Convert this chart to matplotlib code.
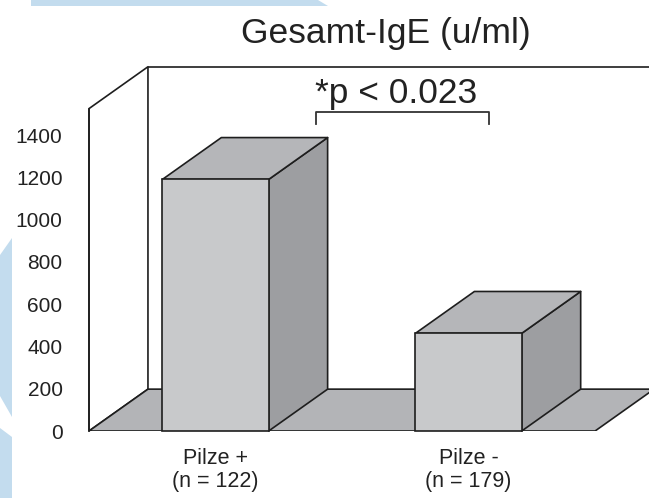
import matplotlib
matplotlib.use("Agg")
import matplotlib.pyplot as plt
from matplotlib.patches import Polygon, Rectangle

plt.rcParams['font.family'] = ['Liberation Sans', 'DejaVu Sans']

# data
groups = ['Pilze +\n(n = 122)', 'Pilze -\n(n = 179)']
ige_values = [1190, 462]
y_ticks = [0, 200, 400, 600, 800, 1000, 1200, 1400]
title = 'Gesamt-IgE (u/ml)'
p_label = '*p < 0.023'

# 3d look
bar_w = 0.42
dx, dy = 0.233, 198
wall_top = 1525
x_lo, x_hi = -0.5, 1.5

front_c = '#c8c9cb'
top_c = '#b5b6b9'
side_c = '#9d9ea1'
floor_c = '#b3b4b7'
edge = '#1e1e1e'
lw = 1.2

fig = plt.figure(figsize=(6.49, 4.98), dpi=100)
W, H = 649, 498
ax = fig.add_axes([89 / W, 67 / H, (649 - 89) / W, 371 / H])
ax.set_xlim(x_lo, 1.713)
ax.set_ylim(0, 371 / 0.2114)

def poly(pts, fc, z):
    ax.add_patch(Polygon(pts, closed=True, facecolor=fc, edgecolor=edge,
                         linewidth=lw, zorder=z, clip_on=False, joinstyle='round'))

# left wall (white) and back wall top line
poly([(x_lo, 0), (x_lo + dx, dy), (x_lo + dx, wall_top + dy), (x_lo, wall_top)], 'white', 1)
ax.plot([x_lo + dx, 1.713], [wall_top + dy, wall_top + dy], color=edge, lw=lw, zorder=1,
        clip_on=True, solid_capstyle='butt')
# floor
ax.add_patch(Polygon([(x_lo, 0), (x_hi, 0), (x_hi + dx, dy), (x_lo + dx, dy)], closed=True,
                     facecolor=floor_c, edgecolor=edge, linewidth=lw, zorder=2, clip_on=True))
ax.plot([x_lo, x_lo], [0, wall_top], color=edge, lw=lw, zorder=3, clip_on=False)

# bars
for i, v in enumerate(ige_values):
    l, r = i - bar_w / 2, i + bar_w / 2
    poly([(r, 0), (r + dx, dy), (r + dx, v + dy), (r, v)], side_c, 4)
    poly([(l, v), (r, v), (r + dx, v + dy), (l + dx, v + dy)], top_c, 4)
    ax.add_patch(Rectangle((l, 0), bar_w, v, facecolor=front_c, edgecolor=edge,
                           linewidth=lw, zorder=5, clip_on=False))

# significance bracket
bx0, bx1, by, bh = 0.397, 1.081, 1509, 57
ax.plot([bx0, bx0, bx1, bx1], [by - bh, by, by, by - bh], color='#333333', lw=1.3, zorder=6)
ax.text((bx0 + bx1) / 2 - 0.025, 1551, p_label, ha='center', va='baseline', fontsize=25.5,
        color='#222222')

fig.text(386 / W, (H - 43) / H, title, ha='center', va='baseline', fontsize=25.5, color='#222222')

ax.set_yticks(y_ticks)
ax.set_yticklabels([str(t) for t in y_ticks], fontsize=15, color='#222222')
ax.set_xticks(range(len(groups)))
ax.set_xticklabels(groups, fontsize=15.5, color='#222222', linespacing=1.15)
ax.tick_params(axis='y', length=0, pad=19)
ax.tick_params(axis='x', length=0, pad=12)
for s in ax.spines.values():
    s.set_visible(False)
ax.patch.set_visible(False)

# light blue background shapes
blue = '#c3dcee'
fig.patches.append(Polygon([(31 / W, 1), (318 / W, 1), (328 / W, (H - 6) / H), (31 / W, (H - 6) / H)],
                           closed=True, transform=fig.transFigure, facecolor=blue, edgecolor='none', zorder=0))
fig.patches.append(Polygon([(0, (H - 255) / H), (12 / W, (H - 238) / H), (12 / W, (H - 417) / H),
                            (0, (H - 396) / H)],
                           closed=True, transform=fig.transFigure, facecolor=blue, edgecolor='none', zorder=0))
fig.patches.append(Polygon([(0, (H - 428) / H), (12 / W, (H - 437) / H), (12 / W, 0), (0, 0)],
                           closed=True, transform=fig.transFigure, facecolor=blue, edgecolor='none', zorder=0))

fig.savefig('out.png', dpi=100)
